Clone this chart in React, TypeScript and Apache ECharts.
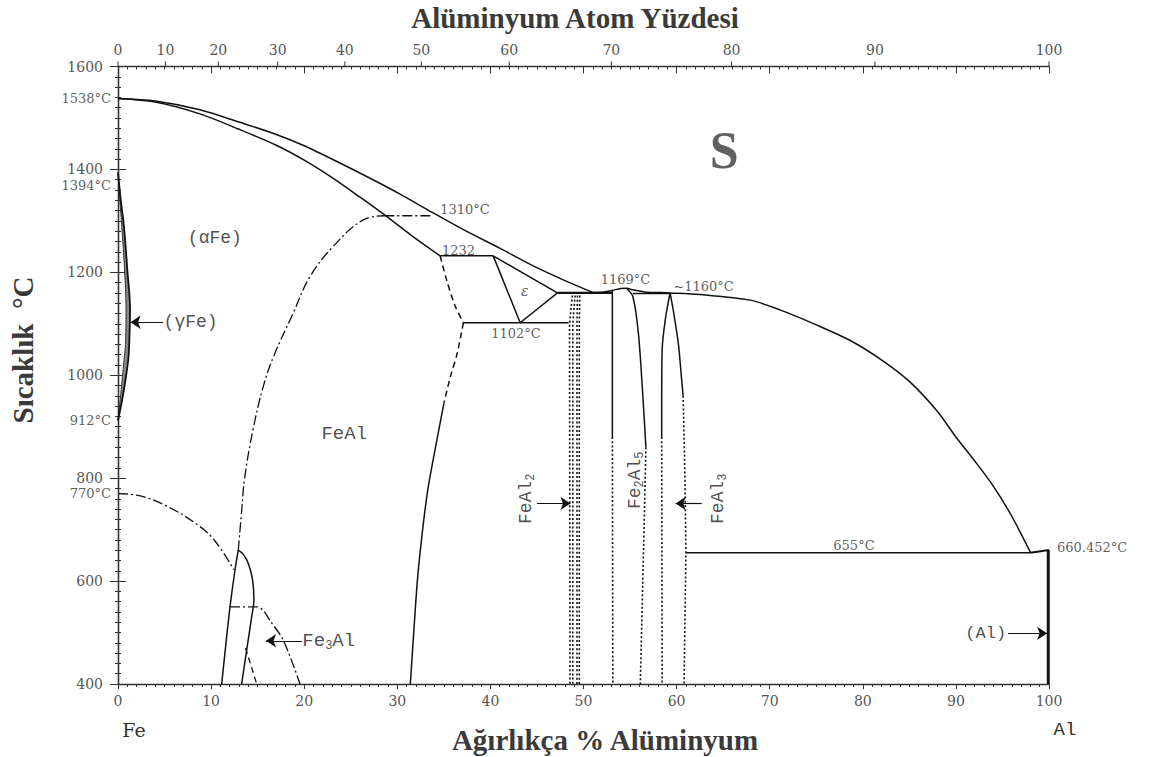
import React, { useEffect, useRef } from "react";
import * as echarts from "echarts";

// ---- Fe–Al phase diagram: [weight % Al, temperature °C] ----

// liquidus and solidus on the iron side
const liquidusFeSide = [[0, 1538], [4, 1533], [8.8, 1516], [13, 1492], [17, 1468], [20, 1446], [24, 1411], [27.8, 1376], [30.3, 1352], [33.8, 1316], [37, 1284], [41, 1247], [45, 1209], [48, 1184], [51.0, 1161]];
const solidusFeSide = [[0, 1538], [4, 1531], [8.8, 1508], [13, 1478], [17, 1447], [20, 1418], [23, 1384], [26, 1346], [28.6, 1312], [31.5, 1272], [34.6, 1232]];
// liquidus on the aluminium side, over the Fe2Al5 maximum
const liquidusAlSide = [[51.0, 1161], [52.2, 1162], [53.1, 1165], [54.0, 1168.5], [54.6, 1169], [55.3, 1166], [56.5, 1162], [59.3, 1160], [62.5, 1157], [67.9, 1146], [71.1, 1127], [75, 1098], [78.6, 1068], [82, 1030], [85, 988], [88, 930], [90, 880], [92, 834], [94, 785], [96, 726], [98, 656]];

// gamma loop
const gammaOuter = [[0, 1394], [0.3, 1340], [0.64, 1289], [1.0, 1205], [1.29, 1127], [1.2, 1060], [1.1, 1030], [0.57, 965], [0, 912]];
const gammaInner = [[0, 1394], [0.2, 1340], [0.4, 1289], [0.7, 1205], [0.86, 1127], [0.8, 1060], [0.65, 1030], [0.3, 965], [0, 912]];

// ordering (B2) and magnetic transitions
const orderingB2 = [[12.92, 660], [13.3, 740], [13.6, 800], [14.5, 894], [15.6, 978], [16.7, 1036], [18.8, 1120], [20.6, 1191], [23.1, 1250], [26.35, 1302], [28.6, 1310]];
const ordering1310 = [[28.6, 1310], [33.6, 1310]];
const curieLine = [[0, 770], [2, 767], [5.2, 746], [8.8, 706], [10.5, 676], [12.45, 622]];

// Fe3Al field
const fe3AlLeft = [[11.14, 400], [11.6, 480], [12.03, 550], [12.57, 622], [12.92, 660]];
const fe3AlRight = [[12.92, 660], [13.5, 651], [14.0, 634], [14.46, 602], [14.6, 563], [14.36, 531], [13.82, 466], [13.28, 400]];
const fe3AlDashed = [[13.7, 470], [14.9, 400]];
const d03Line = [[12.03, 550], [14.9, 550], [15.6, 543], [16.3, 524], [17.76, 485], [19.55, 400]];

// FeAl boundary
const feAlUpperDashed = [[34.6, 1232], [35.3, 1185], [36.2, 1135], [37.1, 1102]];
const feAlLowerDashed = [[37.1, 1102], [36.4, 1040], [35.7, 997], [35.0, 945]];
const feAlSolid = [[35.0, 945], [34.05, 855], [33.3, 780], [32.8, 712], [32.2, 610], [31.8, 510], [31.4, 400]];

// epsilon field and invariant lines
const epsilonTriangle = [[40.3, 1232], [47.2, 1160], [43.2, 1102], [40.3, 1232]];
const line1232 = [[34.6, 1232], [40.3, 1232]];
const line1102 = [[37.1, 1102], [48.4, 1102]];
const line1160Left = [[47.2, 1160], [53.1, 1160]];
const line1160Right = [[55.3, 1159], [59.3, 1159]];
const line655 = [[61.0, 655], [98, 655]];
const alMelt = [[98, 655], [100, 660.452]];
const alSolution = [[99.92, 660.452], [99.92, 400]];

// FeAl2 (dotted boundaries)
const feAl2A = [[48.8, 1155], [48.5, 1100], [48.55, 400]];
const feAl2B = [[49.1, 1155], [48.85, 1100], [48.85, 400]];
const feAl2C = [[49.35, 1155], [49.3, 1100], [49.3, 400]];
const feAl2D = [[49.6, 1155], [49.55, 1100], [49.55, 400]];

// Fe2Al5
const fe2Al5Left = [[53.1, 1165], [53.1, 880]];
const fe2Al5LeftDotted = [[53.1, 880], [53.15, 400]];
const fe2Al5Right = [[54.6, 1169], [55.3, 1153], [55.9, 1081], [56.4, 952], [56.7, 860]];
const fe2Al5RightDotted = [[56.7, 860], [56.5, 700], [56.1, 400]];

// FeAl3
const feAl3Left = [[59.3, 1160], [58.8, 1110], [58.45, 1050], [58.4, 950], [58.4, 880]];
const feAl3LeftDotted = [[58.4, 880], [58.45, 400]];
const feAl3Right = [[59.3, 1160], [59.7, 1120], [60.2, 1060], [60.5, 1000], [60.7, 960]];
const feAl3RightDotted = [[60.7, 960], [60.9, 800], [61.0, 655], [60.8, 400]];

// upper scale: atomic % Al
const atomTicks = [0, 10, 20, 30, 40, 50, 60, 70, 80, 90, 100];
const M_AL = 26.982;
const M_FE = 55.845;
const atomToWeight = (a: number) => (a * M_AL) / (a * M_AL + (100 - a) * M_FE) * 100;

// temperature annotations
const tempNotes: { text: string; x: number; t: number; align: string; offset?: number[] }[] = [
  { text: "1538°C", x: 0, t: 1538, align: "right", offset: [-7, 0] },
  { text: "1394°C", x: 0, t: 1394, align: "right", offset: [-7, 13] },
  { text: "912°C", x: 0, t: 912, align: "right", offset: [-7, 0] },
  { text: "770°C", x: 0, t: 770, align: "right", offset: [-7, 0] },
  { text: "1310°C", x: 34.6, t: 1323, align: "left" },
  { text: "1232", x: 34.8, t: 1242, align: "left" },
  { text: "1102°C", x: 42.75, t: 1082, align: "center" },
  { text: "1169°C", x: 54.5, t: 1187, align: "center" },
  { text: "~1160°C", x: 62.9, t: 1173, align: "center" },
  { text: "655°C", x: 79.05, t: 670, align: "center" },
  { text: "660.452°C", x: 100, t: 660.452, align: "left", offset: [8, -2] },
];

// phase field labels
const phaseNotes: { text: string; x: number; t: number; align: string; rotate?: number; size?: number }[] = [
  { text: "(αFe)", x: 10.4, t: 1267, align: "center", size: 18 },
  { text: "(γFe)", x: 4.9, t: 1103, align: "left", size: 18 },
  { text: "FeAl", x: 24.3, t: 886, align: "center", size: 19 },
  { text: "{n|Fe}{s|3}{n|Al}", x: 19.8, t: 484, align: "left", size: 19 },
  { text: "{n|FeAl}{s|2}", x: 43.8, t: 760, align: "center", rotate: 90, size: 18 },
  { text: "{n|Fe}{s|2}{n|Al}{s|5}", x: 55.5, t: 796, align: "center", rotate: 90, size: 18 },
  { text: "{n|FeAl}{s|3}", x: 64.45, t: 760, align: "center", rotate: 90, size: 18 },
  { text: "(Al)", x: 95.4, t: 498.5, align: "right", size: 17 },
];

// arrows pointing at single-phase fields
const arrows = [
  [[4.85, 1103], [1.35, 1103]],
  [[19.75, 484], [15.9, 484]],
  [[45.0, 751], [48.6, 751]],
  [[62.7, 751], [59.9, 751]],
  [[95.6, 498.5], [99.8, 498.5]],
];

const INK = "#111";
const TEXT = "#333";
const SERIF = "'DejaVu Serif', serif";
const MONO = "'Liberation Mono', monospace";
const TITLE = "bold 29px 'Liberation Serif', serif";

const DASH_DOT = [10, 3, 2, 3];
const DASHED = [6, 4];
const DOTTED = [2, 2.2];

function curve(data: number[][], opts: { width?: number; dash?: any; smooth?: number } = {}) {
  return {
    type: "line",
    data,
    symbol: "none",
    showSymbol: false,
    silent: true,
    clip: false,
    smooth: opts.smooth ?? 0,
    lineStyle: { color: INK, width: opts.width ?? 1.5, type: opts.dash ?? "solid" },
    z: 3,
  };
}

const hidden = { color: "rgba(0,0,0,0)" };

export default function App() {
  const ref = useRef<HTMLDivElement>(null);

  useEffect(() => {
    if (!ref.current) return;
    const chart = echarts.init(ref.current, null, { renderer: "svg" });

    const axisLine = { lineStyle: { color: "#333", width: 1.3 } };
    const tickStyle = { color: "#333", width: 1 };
    const gammaPolygon = [...gammaOuter, ...gammaInner.slice().reverse()];

    const option: any = {
      animation: false,
      backgroundColor: "#fff",
      grid: { left: 118, right: 109, top: 66.5, bottom: 73, containLabel: false },
      xAxis: [
        {
          type: "value", min: 0, max: 100, interval: 10, position: "bottom",
          axisLine, axisTick: { inside: false, length: 5, lineStyle: tickStyle },
          minorTick: { show: true, splitNumber: 10, length: 3, lineStyle: tickStyle },
          axisLabel: { margin: 10, fontFamily: SERIF, fontSize: 14, color: "#555", formatter: (v: number) => String(v) },
          splitLine: { show: false },
        },
        {
          type: "value", min: 0, max: 100, interval: 10, position: "top",
          axisLine, axisTick: { inside: true, length: 7, lineStyle: tickStyle },
          minorTick: { show: true, splitNumber: 10, length: 3, lineStyle: tickStyle },
          axisLabel: { show: false }, splitLine: { show: false },
        },
      ],
      yAxis: [
        {
          type: "value", min: 400, max: 1600, interval: 200, position: "left",
          axisLine, axisTick: { inside: false, length: 8, lineStyle: tickStyle },
          minorTick: { show: true, splitNumber: 10, length: 3, lineStyle: tickStyle },
          axisLabel: { margin: 15, fontFamily: SERIF, fontSize: 14, color: "#555", formatter: (v: number) => String(v) },
          splitLine: { show: false },
        },
        {
          type: "value", min: 400, max: 1600, interval: 200, position: "right",
          axisLine, axisTick: { inside: false, length: 8, lineStyle: tickStyle },
          minorTick: { show: true, splitNumber: 10, length: 3, lineStyle: tickStyle },
          axisLabel: { show: false }, splitLine: { show: false },
        },
      ],
      graphic: [
        { type: "text", x: 575, y: 18, style: { text: "Alüminyum Atom Yüzdesi", font: TITLE, fill: "#3a3a3a", align: "center", verticalAlign: "middle" } },
        { type: "text", x: 605, y: 740, style: { text: "Ağırlıkça % Alüminyum", font: TITLE, fill: "#3a3a3a", align: "center", verticalAlign: "middle" } },
        { type: "text", x: 23, y: 350, rotation: Math.PI / 2, style: { text: "Sıcaklık  °C", font: TITLE, fill: "#3a3a3a", align: "center", verticalAlign: "middle" } },
        { type: "text", x: 134, y: 730, style: { text: "Fe", font: "19px 'DejaVu Serif', serif", fill: TEXT, align: "center", verticalAlign: "middle" } },
        { type: "text", x: 1065, y: 730, style: { text: "Al", font: "19px 'Liberation Mono', monospace", fill: TEXT, align: "center", verticalAlign: "middle" } },
      ],
      series: [
        // shaded gamma loop
        {
          type: "custom", silent: true, clip: false, z: 2,
          data: [[0, 1150]],
          renderItem: (_p: any, api: any) => ({
            type: "polygon",
            shape: { points: gammaPolygon.map((pt) => api.coord(pt)) },
            style: { fill: "#8a8a8a", stroke: "none" },
          }),
        },
        curve(gammaOuter, { smooth: 0.4, width: 1.8 }),
        curve(gammaInner, { smooth: 0.4, width: 0.8 }),

        curve(liquidusFeSide, { smooth: 0.3 }),
        curve(solidusFeSide, { smooth: 0.3 }),
        curve(liquidusAlSide, { smooth: 0.3 }),

        curve(orderingB2, { smooth: 0.4, dash: DASH_DOT, width: 1.3 }),
        curve(ordering1310, { dash: DASH_DOT, width: 1.3 }),
        curve(curieLine, { smooth: 0.4, dash: DASH_DOT, width: 1.3 }),

        curve(fe3AlLeft, { smooth: 0.3 }),
        curve(fe3AlRight, { smooth: 0.4 }),
        curve(fe3AlDashed, { dash: DASHED, width: 1.3 }),
        curve(d03Line, { smooth: 0.3, dash: DASH_DOT, width: 1.3 }),

        curve(feAlUpperDashed, { smooth: 0.3, dash: DASHED }),
        curve(feAlLowerDashed, { smooth: 0.3, dash: DASHED }),
        curve(feAlSolid, { smooth: 0.3 }),

        curve(epsilonTriangle),
        curve(line1232),
        curve(line1102),
        curve(line1160Left, { width: 2.2 }),
        curve(line1160Right, { width: 1.5 }),
        curve(line655),
        curve(alMelt, { width: 2 }),
        curve(alSolution, { width: 3 }),

        curve(feAl2A, { dash: DOTTED, width: 1.6 }),
        curve(feAl2B, { dash: DOTTED, width: 1.6 }),
        curve(feAl2C, { dash: DOTTED, width: 1.6 }),
        curve(feAl2D, { dash: DOTTED, width: 1.6 }),

        curve(fe2Al5Left),
        curve(fe2Al5LeftDotted, { dash: DOTTED, width: 1.6 }),
        curve(fe2Al5Right, { smooth: 0.3 }),
        curve(fe2Al5RightDotted, { dash: DOTTED, width: 1.6 }),

        curve(feAl3Left, { smooth: 0.3 }),
        curve(feAl3LeftDotted, { dash: DOTTED, width: 1.6 }),
        curve(feAl3Right, { smooth: 0.3 }),
        curve(feAl3RightDotted, { dash: DOTTED, width: 1.6 }),

        // arrows
        {
          type: "lines", coordinateSystem: "cartesian2d", silent: true, z: 4,
          symbol: ["none", "arrow"], symbolSize: [4, 10],
          lineStyle: { color: INK, width: 1.2, opacity: 1 },
          data: arrows.map((c) => ({ coords: c })),
        },

        // atomic-% scale along the top edge
        {
          type: "custom", silent: true, clip: false, z: 5,
          encode: { x: 0, y: 1 },
          data: atomTicks.map((a) => [atomToWeight(a), 1600, a]),
          renderItem: (_p: any, api: any) => {
            const p = api.coord([api.value(0), api.value(1)]);
            return {
              type: "group",
              children: [
                { type: "line", shape: { x1: p[0], y1: p[1], x2: p[0], y2: p[1] - 5 }, style: { stroke: "#333", lineWidth: 1 } },
                { type: "text", x: p[0], y: p[1] - 17, style: { text: String(api.value(2)), font: "14px 'DejaVu Serif', serif", fill: "#555", align: "center", verticalAlign: "middle" } },
              ],
            };
          },
        },

        // temperature annotations
        {
          type: "scatter", silent: true, clip: false, z: 6,
          symbolSize: 1, itemStyle: hidden,
          data: tempNotes.map((n) => ({
            value: [n.x, n.t],
            label: {
              show: true, position: "inside", formatter: n.text, align: n.align, verticalAlign: "middle",
              offset: n.offset ?? [0, 0], fontFamily: SERIF, fontSize: 13, color: TEXT,
            },
          })),
        },
        // epsilon
        {
          type: "scatter", silent: true, clip: false, z: 6,
          symbolSize: 1, itemStyle: hidden,
          data: [{
            value: [43.7, 1164],
            label: { show: true, position: "inside", formatter: "ε", fontFamily: SERIF, fontStyle: "italic", fontSize: 14, color: TEXT },
          }],
        },
        // phase field labels
        {
          type: "scatter", silent: true, clip: false, z: 6,
          symbolSize: 1, itemStyle: hidden,
          data: phaseNotes.map((n) => ({
            value: [n.x, n.t],
            label: {
              show: true, position: "inside", formatter: n.text, align: n.align, verticalAlign: "middle",
              rotate: n.rotate ?? 0, fontFamily: MONO, fontSize: n.size ?? 18, color: "#222",
              rich: {
                n: { fontFamily: MONO, fontSize: n.size ?? 18, color: "#222", lineHeight: 22, verticalAlign: "middle" },
                s: { fontFamily: MONO, fontSize: 12, color: "#222", lineHeight: 22, verticalAlign: "bottom" },
              },
            },
          })),
        },
        // big region letter
        {
          type: "scatter", silent: true, clip: false, z: 6,
          symbolSize: 1, itemStyle: hidden,
          data: [{
            value: [65.1, 1436],
            label: { show: true, position: "inside", formatter: "S", fontFamily: "'Liberation Serif', serif", fontWeight: "bold", fontSize: 52, color: "#3a3a3a" },
          }],
        },
      ],
    };

    chart.setOption(option);
    return () => chart.dispose();
  }, []);

  return <div ref={ref} style={{ position: "absolute", left: 0, top: 0, width: 1158, height: 757 }} />;
}
